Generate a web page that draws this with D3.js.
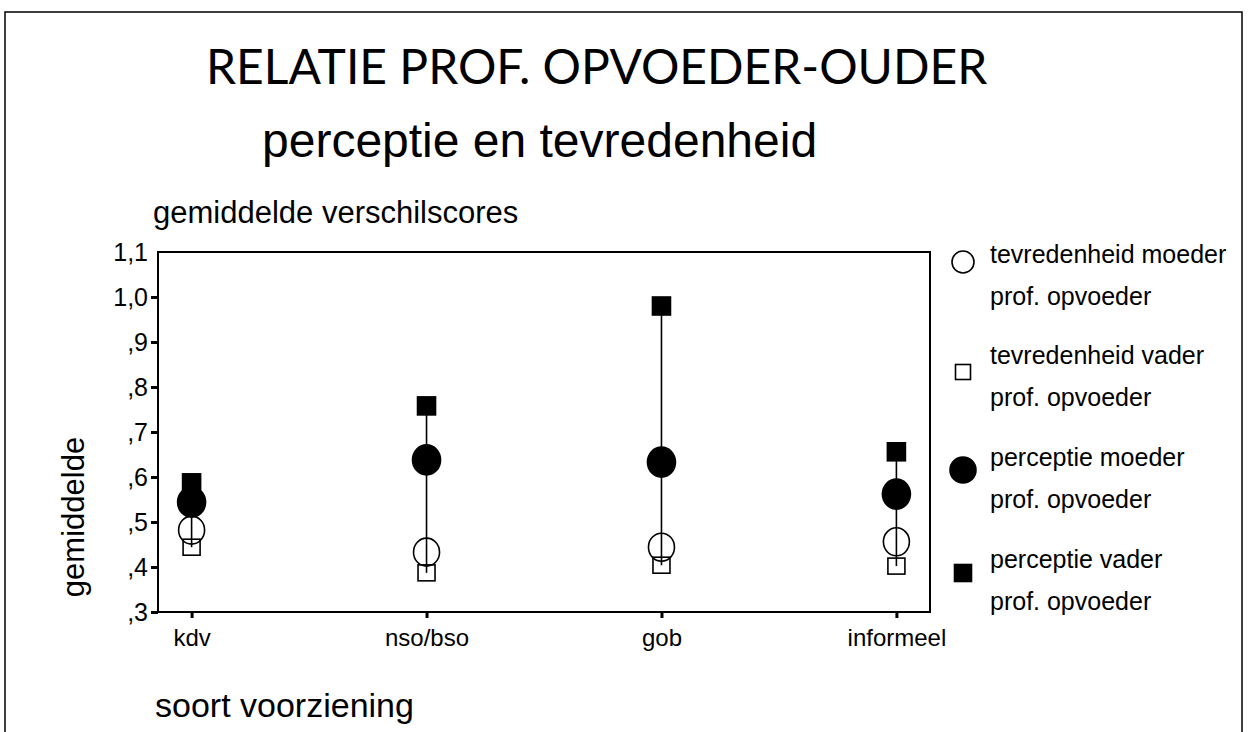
<!DOCTYPE html>
<html>
<head>
    <title>Relatie prof. opvoeder-ouder</title>
    <script src="https://d3js.org/d3.v7.min.js"></script>
    <style>
        body {
            margin: 0;
            background: white;
        }
        text {
            font-family: "Liberation Sans", Arial, sans-serif;
            fill: black;
        }
        .title {
            font-family: Lato, "Liberation Sans", sans-serif;
        }
    </style>
</head>
<body>
    <div id="chart"></div>

    <script>
        const width = 1253, height = 732;
        const plot = {left: 158, right: 930, top: 252, bottom: 612};

        // data
        const categories = ["kdv", "nso/bso", "gob", "informeel"];
        const tevredenheidMoeder = [0.482, 0.433, 0.444, 0.456];
        const tevredenheidVader = [0.444, 0.387, 0.404, 0.402];
        const perceptieMoeder = [0.544, 0.638, 0.633, 0.562];
        const perceptieVader = [0.587, 0.758, 0.980, 0.656];
        const yTicks = [0.3, 0.4, 0.5, 0.6, 0.7, 0.8, 0.9, 1.0, 1.1];
        const legendLabels = ["tevredenheid moeder", "tevredenheid vader", "perceptie moeder", "perceptie vader"];
        const legendSub = "prof. opvoeder";

        const series = [
            {name: legendLabels[0], values: tevredenheidMoeder, shape: "circle", filled: false},
            {name: legendLabels[1], values: tevredenheidVader, shape: "square", filled: false},
            {name: legendLabels[2], values: perceptieMoeder, shape: "circle", filled: true},
            {name: legendLabels[3], values: perceptieVader, shape: "square", filled: true}
        ];

        var svg = d3.select("#chart").append("svg")
            .attr("width", width)
            .attr("height", height);

        // outer frame
        svg.append("rect")
            .attr("x", 5).attr("y", 12)
            .attr("width", 1237).attr("height", 760)
            .attr("fill", "none")
            .attr("stroke", "black")
            .attr("stroke-width", 1.5);

        svg.append("text")
            .attr("class", "title")
            .attr("x", 206).attr("y", 84)
            .style("font-size", "48px")
            .text("RELATIE PROF. OPVOEDER-OUDER");

        svg.append("text")
            .attr("x", 262).attr("y", 157)
            .style("font-size", "48px")
            .text("perceptie en tevredenheid");

        svg.append("text")
            .attr("x", 153).attr("y", 223)
            .style("font-size", "31px")
            .text("gemiddelde verschilscores");

        var xScale = d3.scalePoint()
            .domain(categories)
            .range([plot.left, plot.right])
            .padding(0.143);

        var yScale = d3.scaleLinear()
            .domain([0.3, 1.1])
            .range([plot.bottom, plot.top]);

        var fmt = v => d3.format(".1f")(v).replace(".", ",").replace(/^0/, "");

        // plot box
        svg.append("rect")
            .attr("x", plot.left).attr("y", plot.top)
            .attr("width", plot.right - plot.left)
            .attr("height", plot.bottom - plot.top)
            .attr("fill", "none")
            .attr("stroke", "black")
            .attr("stroke-width", 2);

        var yAxis = svg.append("g")
            .attr("transform", "translate(" + plot.left + ",0)")
            .call(d3.axisLeft(yScale).tickValues(yTicks).tickFormat(fmt).tickSize(7).tickSizeOuter(0).tickPadding(3));
        yAxis.select(".domain").remove();
        yAxis.selectAll(".tick line").attr("stroke-width", 3)
            .filter(d => d > 1.05).remove();
        yAxis.selectAll(".tick text")
            .style("font-size", "25px")
            .style("font-family", "'Liberation Sans', Arial, sans-serif");

        var xAxis = svg.append("g")
            .attr("transform", "translate(0," + plot.bottom + ")")
            .call(d3.axisBottom(xScale).tickSize(6).tickSizeOuter(0).tickPadding(11));
        xAxis.select(".domain").remove();
        xAxis.selectAll(".tick line").attr("stroke-width", 3);
        xAxis.selectAll(".tick text")
            .style("font-size", "24px")
            .style("font-family", "'Liberation Sans', Arial, sans-serif");

        svg.append("text")
            .attr("transform", "translate(84,517) rotate(-90)")
            .style("text-anchor", "middle")
            .style("font-size", "31px")
            .text("gemiddelde");

        svg.append("text")
            .attr("x", 155).attr("y", 717)
            .style("font-size", "34px")
            .text("soort voorziening");

        // vertical line per category from lowest to highest value
        var ranges = categories.map((c, i) => {
            var vals = series.map(s => s.values[i]);
            return {cat: c, lo: d3.min(vals), hi: d3.max(vals)};
        });

        svg.selectAll(".range")
            .data(ranges)
            .enter().append("line")
            .attr("x1", d => xScale(d.cat))
            .attr("x2", d => xScale(d.cat))
            .attr("y1", d => yScale(d.lo))
            .attr("y2", d => yScale(d.hi))
            .attr("stroke", "black")
            .attr("stroke-width", 1.6);

        function drawMarker(g, shape, filled, x, y) {
            if (shape === "circle") {
                g.append("ellipse")
                    .attr("cx", x).attr("cy", y)
                    .attr("rx", filled ? 14 : 13).attr("ry", filled ? 15 : 14)
                    .attr("fill", filled ? "black" : "none")
                    .attr("stroke", "black")
                    .attr("stroke-width", 1.6);
            } else {
                var w = filled ? 18 : 17, h = filled ? 18 : 16;
                g.append("rect")
                    .attr("x", x - w / 2).attr("y", y - h / 2)
                    .attr("width", w).attr("height", h)
                    .attr("fill", filled ? "black" : "none")
                    .attr("stroke", "black")
                    .attr("stroke-width", 1.6);
            }
        }

        var marks = svg.append("g");
        // draw order: perceptie vader, perceptie moeder, tevredenheid vader, tevredenheid moeder
        [3, 2, 1, 0].forEach(si => {
            var s = series[si];
            categories.forEach((c, i) => {
                drawMarker(marks, s.shape, s.filled, xScale(c), yScale(s.values[i]));
            });
        });

        // legend
        var legend = svg.append("g");
        var legendY = [263, 364, 466, 568];
        var markerShift = [-1, 8, 4, 5];
        series.forEach((s, i) => {
            var cy = legendY[i] + markerShift[i];
            if (s.shape === "circle") {
                legend.append("circle")
                    .attr("cx", 963).attr("cy", cy)
                    .attr("r", s.filled ? 13 : 11)
                    .attr("fill", s.filled ? "black" : "none")
                    .attr("stroke", "black")
                    .attr("stroke-width", 1.6);
            } else {
                var sz = s.filled ? 17 : 15;
                legend.append("rect")
                    .attr("x", 963 - sz / 2).attr("y", cy - sz / 2)
                    .attr("width", sz).attr("height", sz)
                    .attr("fill", s.filled ? "black" : "none")
                    .attr("stroke", "black")
                    .attr("stroke-width", 1.6);
            }
            legend.append("text")
                .attr("x", 990).attr("y", legendY[i])
                .style("font-size", "25px")
                .text(s.name);
            legend.append("text")
                .attr("x", 990).attr("y", legendY[i] + 42)
                .style("font-size", "25px")
                .text(legendSub);
        });
    </script>
</body>
</html>
